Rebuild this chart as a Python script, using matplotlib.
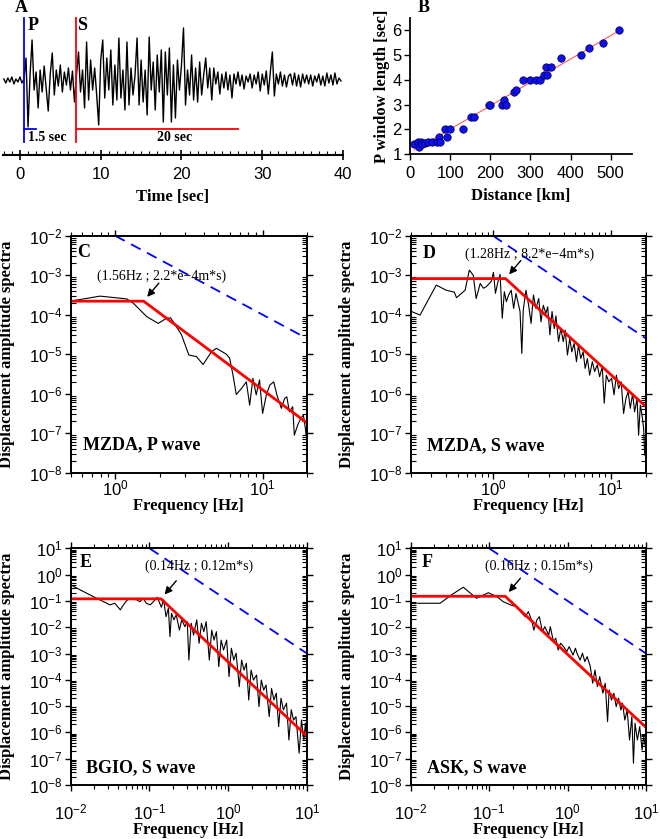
import numpy as np
import matplotlib
matplotlib.use('Agg')
import matplotlib.pyplot as plt
from matplotlib.ticker import MultipleLocator, LogLocator, NullFormatter

plt.rcParams['font.family'] = 'Liberation Sans'
plt.rcParams['mathtext.fontset'] = 'custom'
plt.rcParams['mathtext.rm'] = 'Liberation Sans'
plt.rcParams['mathtext.it'] = 'Liberation Sans:italic'
plt.rcParams['mathtext.bf'] = 'Liberation Sans:bold'
SERIF = 'Liberation Serif'

#%% data

# A: seismogram, one sample every 0.25 s starting at -2 s (amplitude in counts)
seis_t0 = -2.0
seis_dt = 0.25
seis_amp = [1, -3, 2, -2, 3, -4, 1, -2, 3, -3, 1,                 # -2.0 .. 0.5
            22, -47, 5, 40, -10, 8, -28, 10, -12, 14, -8, -31, 6,  # 0.75 .. 3.75
            27, -15, 10, -6, 15, -12, 8, -5, 12, -10, 9, -22,      # 4.0 .. 6.75
            5, 28, -12, 10,      # 7
            -28, 38, -20, 20,    # 8
            -10, 12, -15, -45,   # 9
            20, 40, -18, 22,     # 10
            -10, 30, -25, 15,    # 11
            -20, 42, -18, 10,    # 12
            -30, 38, -25, 12,    # 13
            -15, 5, 42, -25,     # 14
            20, -22, 10, -35,    # 15
            43, -10, 18, -30,    # 16
            25, -12, 30, -42,    # 17
            28, -15, 32, -42,    # 18
            15, -38, 20, -10,    # 19
            15, 52, -25, 10,     # 20
            -15, 25, -20, 12,    # 21
            -22, 18, -15, 5,     # 22
            22, -8, 12, -20,     # 23
            12, -4, 8, -14,      # 24
            6, -8, 8, -10,       # 25
            5, -18, 6, -4,       # 26
            8, -6, 5, -9,        # 27
            4, -2, 6, -8,        # 28
            5, -4, 8, -11,       # 29
            6, -5, 9, -14,       # 30
            8, 28, -16, 6,       # 31
            -4, 8, -6, 5,        # 32
            -7, 4, 6, -5,        # 33
            7, -6, 5, -7,        # 34
            6, -3, 5, -4,        # 35
            5, -6, 4, -2,        # 36
            6, -5, 4, -6,        # 37
            7, -3, 5, -5,        # 38
            7, -4, 2, -1]        # 39
p_pick = 0.5
s_pick = 6.95
p_window = 1.5
s_window = 20.0

# B: P window length vs distance
dist_km = [11, 21, 27, 23, 29, 37, 46, 54, 67, 71, 75, 86, 92, 100, 133, 152, 160,
           196, 200, 228, 233, 238, 260, 263, 281, 298, 315, 325, 335, 340, 342,
           352, 377, 426, 446, 481, 520]
p_len = [1.4, 1.5, 1.5, 1.3, 1.4, 1.45, 1.5, 1.5, 1.5, 1.7, 1.5, 2.0, 1.7, 2.0, 2.0,
         2.5, 2.5, 3.0, 3.0, 3.0, 3.2, 3.0, 3.5, 3.6, 4.0, 4.0, 4.0, 4.0, 4.2, 4.5,
         4.2, 4.5, 4.9, 5.0, 5.3, 5.5, 6.0]

# C: MZDA P wave spectrum
c_f = [0.51, 0.79, 1.2, 1.33, 1.64, 1.96, 2.23, 2.38, 2.48, 2.82, 3.16, 3.56, 3.95,
       4.50, 4.86, 5.68, 5.98, 6.3, 6.63, 7.18, 7.76, 8.17, 8.6, 9.05, 9.53, 10.0,
       10.6, 11.2, 11.9, 12.5, 13.4, 14.1, 14.6, 15.2, 16.0, 16.4, 17.3, 18.2, 18.9,
       19.5, 19.7]
c_logA = [-3.65, -3.53, -3.60, -3.71, -4.05, -4.22, -4.09, -4.08, -4.18, -4.51, -5.02,
          -5.06, -5.26, -4.94, -4.85, -5.0, -5.1, -5.53, -6.02, -5.87, -5.70, -6.29,
          -5.61, -6.03, -5.65, -6.5, -6.03, -5.78, -5.70, -6.03, -6.37, -6.12, -6.08,
          -6.46, -6.33, -7.05, -6.79, -6.62, -6.54, -6.88, -7.05]
c_model_f = [0.5, 1.56, 19.7]
c_model_A = [2.2e-4, 2.2e-4, 1.9e-7]

# D: MZDA S wave spectrum
d_f = [0.2, 0.24, 0.33, 0.40, 0.47, 0.49, 0.58, 0.63, 0.68, 0.72, 0.78, 0.83, 0.88,
       0.97, 1.01, 1.05, 1.10, 1.15, 1.2, 1.25, 1.30, 1.36, 1.43, 1.50, 1.57, 1.70,
       1.76, 1.81, 1.91, 2.01, 2.11, 2.21, 2.32, 2.45, 2.56, 2.68, 2.82, 2.92, 3.05,
       3.18, 3.32, 3.43, 3.61, 3.78, 3.96, 4.11, 4.30, 4.50, 4.68, 4.90, 5.13, 5.33,
       5.58, 5.84, 6.08, 6.35, 6.64, 7.00, 7.32, 7.70, 8.07, 8.50, 8.83, 9.20, 9.67,
       10.2, 10.7, 11.2, 11.7, 12.3, 12.9, 13.5, 14.1, 14.7, 15.4, 16.0, 16.8, 17.3,
       17.9, 18.5, 19.1, 19.5]
d_logA = [-3.91, -4.01, -3.25, -3.38, -3.43, -3.57, -3.38, -2.87, -3.0, -3.59, -3.21,
          -3.33, -3.29, -3.15, -2.93, -3.46, -3.18, -2.98, -4.09, -3.42, -3.67, -3.50,
          -3.38, -3.84, -3.46, -3.92, -4.98, -3.88, -3.38, -3.76, -4.22, -3.50, -3.84,
          -3.59, -4.18, -3.76, -3.97, -3.80, -4.51, -3.92, -4.35, -4.03, -4.68, -4.35,
          -4.68, -4.39, -5.02, -4.60, -4.94, -4.73, -5.19, -4.77, -5.11, -4.94, -5.36,
          -5.11, -5.53, -5.19, -5.44, -5.27, -5.57, -5.32, -6.24, -5.53, -5.70, -5.61,
          -6.03, -5.53, -5.87, -5.70, -6.50, -6.12, -5.95, -6.37, -6.0, -6.46, -6.12,
          -7.05, -6.29, -6.54, -6.88, -7.55]
d_model_f = [0.2, 1.28, 19.5]
d_model_A = [8.2e-4, 8.2e-4, 5.0e-7]

# E: BGIO S wave spectrum (log10 of frequency)
e_logf = [-2, -1.88, -1.73, -1.63, -1.50, -1.44, -1.37, -1.33, -1.29, -1.25, -1.21,
          -1.16, -1.12, -1.08, -1.04, -0.99, -0.95, -0.90, -0.85, -0.82, -0.79, -0.76,
          -0.74, -0.72, -0.69, -0.66, -0.62, -0.59, -0.55, -0.52, -0.50, -0.47, -0.44,
          -0.40, -0.37, -0.34, -0.31, -0.28, -0.24, -0.21, -0.18, -0.15, -0.12, -0.09,
          -0.06, -0.02, 0.01, 0.04, 0.07, 0.10, 0.14, 0.17, 0.20, 0.23, 0.26, 0.29,
          0.32, 0.36, 0.39, 0.42, 0.45, 0.48, 0.52, 0.55, 0.58, 0.61, 0.64, 0.67, 0.70,
          0.74, 0.77, 0.80, 0.83, 0.86, 0.90, 0.93, 0.96, 0.98, 1.0]
e_logA = [-0.39, -0.58, -0.81, -0.96, -1.15, -1.09, -1.34, -1.15, -0.99, -0.91, -0.94,
          -0.96, -1.03, -0.90, -1.09, -1.15, -1.03, -0.86, -1.24, -0.96, -1.60, -1.28,
          -2.36, -1.47, -1.72, -1.53, -2.11, -1.72, -1.98, -1.79, -3.25, -1.85, -2.30,
          -1.72, -2.61, -1.85, -2.17, -1.79, -3.25, -2.11, -2.49, -2.17, -3.50, -2.49,
          -2.87, -2.49, -3.88, -2.80, -3.25, -2.99, -4.26, -3.25, -3.63, -3.37, -4.77,
          -3.63, -4.01, -3.82, -5.02, -4.01, -4.39, -4.20, -5.40, -4.33, -4.77, -4.51,
          -5.78, -4.70, -5.14, -4.89, -6.29, -5.14, -5.53, -5.40, -6.79, -5.53, -6.29,
          -5.65, -6.54]
e_model_f = [0.01, 0.14, 10.0]
e_model_A = [0.12, 0.12, 7.2e-7]

# F: ASK S wave spectrum (log10 of frequency)
f_logf = [-1.915, -1.626, -1.48, -1.33, -1.16, -1.01, -0.90, -0.82, -0.73, -0.65,
          -0.58, -0.54, -0.50, -0.46, -0.43, -0.39, -0.36, -0.32, -0.29, -0.24, -0.22,
          -0.18, -0.15, -0.12, -0.09, -0.05, -0.01, 0.02, 0.07, 0.10, 0.12, 0.16, 0.19,
          0.22, 0.25, 0.29, 0.32, 0.35, 0.38, 0.41, 0.45, 0.48, 0.51, 0.53, 0.56, 0.59,
          0.62, 0.65, 0.68, 0.70, 0.73, 0.76, 0.79, 0.82, 0.84, 0.86, 0.89, 0.92, 0.95,
          0.97, 1.0]
f_logA = [-1.09, -1.09, -0.77, -0.48, -0.90, -0.69, -0.84, -1.03, -1.15, -1.22, -1.47,
          -1.60, -1.41, -1.72, -2.11, -1.72, -1.60, -2.17, -1.98, -2.30, -1.98, -2.55,
          -2.42, -2.87, -2.61, -2.74, -2.93, -2.74, -3.06, -2.80, -2.99, -3.25, -2.99,
          -3.31, -3.12, -3.50, -4.13, -3.63, -4.26, -3.88, -4.51, -4.13, -5.59, -4.39,
          -4.77, -4.51, -5.02, -4.70, -5.15, -4.89, -5.53, -5.15, -6.29, -5.40, -7.17,
          -5.65, -6.29, -5.78, -6.67, -6.16, -6.67]
f_model_f = [0.01, 0.16, 10.0]
f_model_A = [0.15, 0.15, 1.55e-6]

# f^-2 reference lines
ref_f_hi = [1.0, 20.0]
ref_A_hi = [1e-2, 2.5e-5]
ref_f_lo = [0.1, 10.0]
ref_A_lo = [10.0, 1e-3]

#%% figure

W, H = 660, 839
fig = plt.figure(figsize=(W/100, H/100), dpi=100, facecolor='white')

def rect(x0, y0, x1, y1):
    # pixel box (top-left origin) -> figure fraction
    return [x0/W, 1 - y1/H, (x1 - x0)/W, (y1 - y0)/H]

lab = dict(fontfamily=SERIF, fontweight='bold', fontsize=12)
TICK = 12

# ---- A: seismogram
axA = fig.add_axes(rect(3, 10, 343, 155))
seis_t = seis_t0 + seis_dt*np.arange(len(seis_amp))
axA.plot(seis_t, seis_amp, color='k', lw=1.0)
axA.set_xlim(-2.1, 40)
axA.set_ylim(-75, 70)
for s in ['top', 'right', 'left']:
    axA.spines[s].set_visible(False)
axA.spines['bottom'].set_linewidth(1.5)
axA.set_yticks([])
axA.xaxis.set_major_locator(MultipleLocator(10))
axA.xaxis.set_minor_locator(MultipleLocator(1))
axA.tick_params(axis='x', which='major', direction='inout', length=7, width=1.2, pad=5,
                labelsize=TICK)
axA.tick_params(axis='x', which='minor', direction='in', length=3, width=0.8)
trA = axA.get_xaxis_transform()
axA.plot([p_pick, p_pick], [0.09, 0.945], color='blue', lw=1.3, transform=trA)
axA.plot([p_pick, p_pick + p_window], [0.179, 0.179], color='blue', lw=1.3, transform=trA)
axA.plot([s_pick, s_pick], [0.09, 0.945], color='red', lw=1.3, transform=trA)
axA.plot([s_pick, s_pick + s_window], [0.179, 0.179], color='red', lw=1.3, transform=trA)
axA.text(p_pick + 0.4, 0.89, 'P', transform=trA, ha='left', va='center', fontfamily=SERIF,
         fontweight='bold', fontsize=13)
axA.text(s_pick + 0.15, 0.89, 'S', transform=trA, ha='left', va='center', fontfamily=SERIF,
         fontweight='bold', fontsize=13)
axA.text(p_pick + 0.45, 0.124, '%.1f sec' % p_window, transform=trA, ha='left', va='center',
         fontfamily=SERIF, fontweight='bold', fontsize=10)
axA.text(s_pick + 12.2, 0.124, '%d sec' % s_window, transform=trA, ha='center', va='center',
         fontfamily=SERIF, fontweight='bold', fontsize=10)
axA.set_xlabel('Time [sec]', labelpad=5, **lab)
fig.text(21/W, 1 - 7/H, 'A', ha='center', va='center', fontfamily=SERIF, fontweight='bold',
         fontsize=13)

# ---- B: P window length vs distance
axB = fig.add_axes(rect(410, 18, 632, 154))
coef = np.polyfit(dist_km, p_len, 1)
xf = np.array([min(dist_km), max(dist_km)])
axB.plot(xf, np.polyval(coef, xf), color='#ff5a5a', lw=0.8, zorder=1)
axB.scatter(dist_km, p_len, s=28, color='#1010ee', edgecolor='#000066', linewidth=0.6, zorder=2)
axB.set_xlim(0, 553)
axB.set_ylim(1, 6.5)
for s in ['top', 'right']:
    axB.spines[s].set_visible(False)
axB.spines['left'].set_linewidth(1.3)
axB.spines['bottom'].set_linewidth(1.3)
axB.xaxis.set_major_locator(MultipleLocator(100))
axB.yaxis.set_major_locator(MultipleLocator(1))
axB.tick_params(direction='out', length=4, width=1.0, pad=2, labelsize=TICK)
axB.tick_params(axis='x', pad=5)
axB.set_xlabel('Distance [km]', labelpad=5, **lab)
axB.set_ylabel('P window length [sec]', labelpad=2, **lab)
fig.text(424/W, 1 - 7/H, 'B', ha='center', va='center', fontfamily=SERIF, fontweight='bold',
         fontsize=13)

# ---- C-F: spectra
def spectrum(box, f, A, model_f, model_A, ref_f, ref_A, xlim, ylim, letter, letter_xy,
             station, station_xy, note, note_xy, xpad, xlab_y):
    ax = fig.add_axes(rect(*box))
    ax.set_xscale('log')
    ax.set_yscale('log')
    ax.plot(f, A, color='k', lw=0.8)
    ax.plot(model_f, model_A, color='red', lw=2.0)
    ax.plot(ref_f, ref_A, color='blue', lw=1.3, ls=(0, (6, 4)))
    ax.set_xlim(*xlim)
    ax.set_ylim(*ylim)
    for s in ax.spines.values():
        s.set_linewidth(1.4)
    ax.yaxis.set_major_locator(LogLocator(base=10, numticks=20))
    ax.yaxis.set_minor_locator(LogLocator(base=10, subs=np.arange(2, 10), numticks=100))
    ax.yaxis.set_minor_formatter(NullFormatter())
    ax.xaxis.set_major_locator(LogLocator(base=10, numticks=20))
    ax.xaxis.set_minor_locator(LogLocator(base=10, subs=np.arange(2, 10), numticks=100))
    ax.xaxis.set_minor_formatter(NullFormatter())
    ax.tick_params(axis='x', which='both', direction='out', top=True, labelsize=TICK, pad=xpad)
    ax.tick_params(axis='x', which='major', length=4, width=1.0)
    ax.tick_params(axis='x', which='minor', length=3, width=0.8)
    ax.tick_params(axis='y', which='major', direction='out', right=True, length=4, width=1.0,
                   pad=2, labelsize=TICK)
    ax.tick_params(axis='y', which='minor', direction='in', right=True, length=3.5, width=0.8)
    ax.set_xlabel('Frequency [Hz]', **lab)
    ax.xaxis.set_label_coords(0.5, xlab_y)
    ax.set_ylabel('Displacement amplitude spectra', **lab)
    ax.yaxis.set_label_coords(-0.235, 0.5)
    ax.text(*letter_xy, letter, transform=ax.transAxes, ha='center', va='center',
            fontfamily=SERIF, fontweight='bold', fontsize=13)
    ax.text(*station_xy, station, transform=ax.transAxes, ha='left', va='center',
            fontfamily=SERIF, fontweight='bold', fontsize=13)
    ax.text(*note_xy, note, transform=ax.transAxes, ha='center', va='center',
            fontfamily=SERIF, fontsize=10)
    ax.annotate('', xy=(model_f[1], model_A[1]), xytext=(11, 13), textcoords='offset points',
                arrowprops=dict(arrowstyle='-|>', color='k', lw=1.0, mutation_scale=11,
                                shrinkA=0, shrinkB=4))
    return ax

spectrum((70.7, 235.7, 307, 472.7), c_f, 10**np.array(c_logA), c_model_f, c_model_A,
         ref_f_hi, ref_A_hi, (0.5, 20), (1e-8, 1e-2), 'C', (0.056, 0.931),
         'MZDA, P wave', (0.052, 0.117), '(1.56Hz ; 2.2*e\u22124m*s)', (0.386, 0.83),
         0.5, -0.108)
spectrum((410.7, 235.7, 646, 472.7), d_f, 10**np.array(d_logA), d_model_f, d_model_A,
         ref_f_hi, ref_A_hi, (0.2, 20), (1e-8, 1e-2), 'D', (0.078, 0.927),
         'MZDA, S wave', (0.069, 0.113), '(1.28Hz ; 8.2*e\u22124m*s)', (0.507, 0.923),
         0.5, -0.108)
spectrum((70.7, 548.3, 307, 785), 10**np.array(e_logf), 10**np.array(e_logA), e_model_f,
         e_model_A, ref_f_lo, ref_A_lo, (0.01, 10), (1e-8, 10), 'E', (0.065, 0.938),
         'BGIO, S wave', (0.065, 0.072), '(0.14Hz ; 0.12m*s)', (0.543, 0.925),
         8.5, -0.156)
spectrum((410.7, 548.3, 646, 785), 10**np.array(f_logf), 10**np.array(f_logA), f_model_f,
         f_model_A, ref_f_lo, ref_A_lo, (0.01, 10), (1e-8, 10), 'F', (0.069, 0.938),
         'ASK, S wave', (0.069, 0.072), '(0.16Hz ; 0.15m*s)', (0.545, 0.925),
         8.5, -0.156)

plt.savefig('out.png', dpi=100, facecolor='white')
